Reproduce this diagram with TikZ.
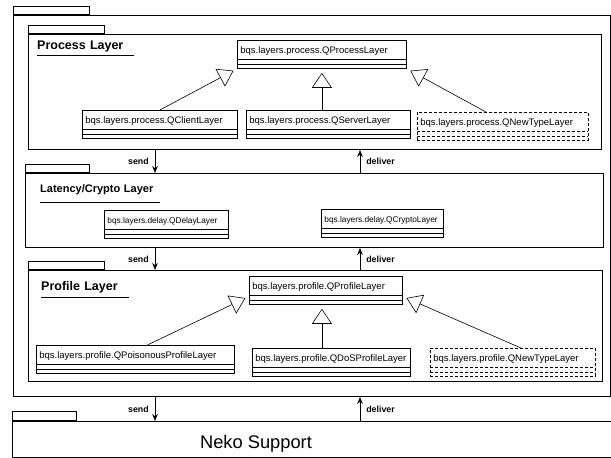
\documentclass[tikz,border=0pt]{standalone}
\usepackage{fontspec}
\setmainfont{Liberation Sans}
\usetikzlibrary{arrows.meta,positioning}
\hyphenpenalty=10000
\exhyphenpenalty=10000
\newcommand\clsfont{\fontsize{9.5pt}{11pt}\selectfont}
\newcommand\smlfont{\fontsize{8.3pt}{10pt}\selectfont}
\newcommand\ttlfont{\fontsize{12.5pt}{14pt}\selectfont\bfseries}
\newcommand\lblfont{\fontsize{8.8pt}{10pt}\selectfont\bfseries}
\newcommand\nekofont{\fontsize{18.3pt}{20pt}\selectfont}
\tikzset{
  pkgblk/.style={draw,line width=0.9pt,anchor=north west,inner sep=0pt},
  tabblk/.style={draw,line width=0.9pt,anchor=south west,inner sep=0pt,minimum height=8.5pt},
  cmpline/.style={line width=0.8pt},
  clsblk/.style={draw,line width=0.8pt,anchor=north west,inner xsep=3pt,inner ysep=0pt,
    text width=#1,align=left,text height=13pt,text depth=15pt,font=\clsfont,
    path picture={\draw[cmpline] ([yshift=9pt]path picture bounding box.south west) -- ([yshift=9pt]path picture bounding box.south east)
      ([yshift=4.5pt]path picture bounding box.south west) -- ([yshift=4.5pt]path picture bounding box.south east);}},
  newblk/.style={clsblk=#1,dash pattern=on 3pt off 2pt,cmpline/.append style={dash pattern=on 3pt off 2pt}},
  ttl/.style={font=\ttlfont,anchor=south west,inner sep=0pt,text depth=#1,align=left},
  uline/.style={line width=0.8pt},
  flow/.style={-{Stealth[length=7pt,width=5.5pt]},line width=0.7pt},
  inh/.style={-{Triangle[open,length=15pt,width=20pt]},line width=0.6pt,shorten >=4pt},
  lbl/.style={font=\lblfont,inner sep=0pt}
}
\begin{document}
\begin{tikzpicture}[x=1pt,y=-1pt]
  \useasboundingbox (0,0) rectangle (611,458);

  % packages
  \node[pkgblk,minimum width=597pt,minimum height=381pt] (outer) at (13,15) {};
  \node[tabblk,minimum width=76pt] (outertab) at (outer.north west) {};
  \node[pkgblk,minimum width=573pt,minimum height=115pt] (procpkg) at (28,34) {};
  \node[tabblk,minimum width=76pt] (proctab) at (procpkg.north west) {};
  \node[pkgblk,minimum width=578pt,minimum height=74pt] (latpkg) at (25,173) {};
  \node[tabblk,minimum width=64pt,minimum height=8pt] (lattab) at (latpkg.north west) {};
  \node[pkgblk,minimum width=574pt,minimum height=111pt] (profpkg) at (28,270) {};
  \node[tabblk,minimum width=76pt] (proftab) at (profpkg.north west) {};
  \node[pkgblk,minimum width=599pt,minimum height=35.5pt] (neko) at (12,421) {};
  \node[tabblk,minimum width=64pt,minimum height=9pt] (nekotab) at (neko.north west) {};
  \node[font=\nekofont,anchor=base] (nekotxt) at (256,448) {Neko Support};

  % titles
  \node[ttl=5pt,text width=97pt] (proctitle) at (37,55) {Process Layer};
  \draw[uline] (proctitle.south west) -- (proctitle.south east);
  \node[ttl=9pt,text width=120pt,font=\fontsize{11pt}{13pt}\selectfont\bfseries] (lattitle) at (40,202) {Latency/Crypto Layer};
  \draw[uline] (lattitle.south west) -- (lattitle.south east);
  \node[ttl=6pt,text width=88pt] (proftitle) at (41,297) {Profile Layer};
  \draw[uline] (proftitle.south west) -- (proftitle.south east);

  % process layer
  \node[clsblk=163pt] (proc) at (237,40) {bqs.layers.process.QProcessLayer};
  \node[clsblk=149pt] (cli) at (82,110) {bqs.layers.process.QClientLayer};
  \node[clsblk=158pt] (srv) at (246,110) {bqs.layers.process.QServerLayer};
  \node[newblk=165pt] (ntp) at (417,112) {bqs.layers.process.QNewTypeLayer};
  \draw[inh] (cli.north) -- (proc.south west);
  \draw[inh] (srv.north -| proc.south) -- (proc.south);
  \draw[inh] ([xshift=-17pt]ntp.north) -- (proc.south east);

  % latency layer
  \node[clsblk=118pt,font=\smlfont] (dly) at (104,210) {bqs.layers.delay.QDelayLayer};
  \node[clsblk=116pt,font=\smlfont] (cry) at (321,209) {bqs.layers.delay.QCryptoLayer};

  % profile layer
  \node[clsblk=147pt] (prof) at (249,276) {bqs.layers.profile.QProfileLayer};
  \node[clsblk=192pt] (poi) at (36,345) {bqs.layers.profile.QPoisonousProfileLayer};
  \node[clsblk=152pt] (dos) at (252,348) {bqs.layers.profile.QDoSProfileLayer};
  \node[newblk=159pt] (ntf) at (430,348) {bqs.layers.profile.QNewTypeLayer};
  \coordinate (dosup) at ([xshift=-4pt]prof.south);
  \draw[inh] ([xshift=12pt]poi.north) -- ([yshift=-6pt]prof.west);
  \draw[inh] (dos.north -| dosup) -- (dosup);
  \draw[inh] ([xshift=8pt]ntf.north) -- ([yshift=-6pt]prof.east);

  % send / deliver
  \coordinate (sx) at (155,0);
  \coordinate (dx) at (360,0);
  \draw[flow] (procpkg.south -| sx) -- node[lbl,left=6pt] {send} (latpkg.north -| sx);
  \draw[flow] (latpkg.north -| dx) -- node[lbl,right=6pt] {deliver} (procpkg.south -| dx);
  \draw[flow] (latpkg.south -| sx) -- node[lbl,left=6pt] {send} (profpkg.north -| sx);
  \draw[flow] (profpkg.north -| dx) -- node[lbl,right=6pt] {deliver} (latpkg.south -| dx);
  \draw[flow] (outer.south -| sx) -- node[lbl,left=6pt] {send} (neko.north -| sx);
  \draw[flow] (neko.north -| dx) -- node[lbl,right=6pt] {deliver} (outer.south -| dx);
\end{tikzpicture}
\end{document}
